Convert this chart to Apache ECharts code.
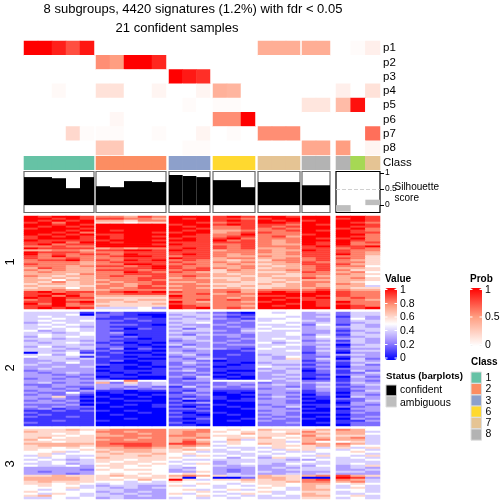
<!DOCTYPE html>
<html><head><meta charset="utf-8">
<style>html,body{margin:0;padding:0;background:#fff}#c{width:504px;height:504px}</style>
<script src="https://cdn.jsdelivr.net/npm/echarts@6/dist/echarts.min.js"></script>
</head><body><div id="c"></div>
<script>
var titleLine1 = '8 subgroups, 4420 signatures (1.2%) with fdr < 0.05';
var titleLine2 = '21 confident samples';
var groupSizes = [5,5,3,3,3,2,3];
var pLabels = ['p1','p2','p3','p4','p5','p6','p7','p8'];
var p1 = [1,1,.9,.75,.93, 0,0,0,0,0, 0,0,0, 0,0,0, .42,.42,.42, .42,.42, 0,.02,.08];
var p2 = [0,0,0,0,0, .55,.5,1,1,.88, 0,0,0, 0,0,0, 0,0,0, 0,0, 0,0,0];
var p3 = [0,0,0,0,0, 0,0,0,0,0, 1,.92,.85, 0,0,0, 0,0,0, 0,0, 0,0,0];
var p4 = [0,0,.03,0,0, .15,.15,0,0,.05, 0,0,.05, .4,.38,0, 0,0,0, 0,0, .08,0,.15];
var p5 = [0,0,0,0,0, 0,0,0,0,0, 0,.02,0, .02,.02,0, 0,0,0, .13,.13, .35,.95,0];
var p6 = [0,0,0,0,0, 0,.04,0,0,0, 0,0,0, .55,.55,1, 0,0,0, 0,0, 0,0,0];
var p7 = [0,0,0,.2,.02, .02,.02,0,0,.02, 0,0,.05, 0,.02,0, .55,.55,.55, 0,0, 0,0,.65];
var p8 = [0,0,0,0,0, .28,.28,0,0,0, 0,.02,.02, 0,0,0, 0,0,0, .45,.45, .5,0,.05];
var classIds = [1,1,1,1,1, 2,2,2,2,2, 3,3,3, 6,6,6, 7,7,7, 8,8, 8,4,7];
var silhouette = [.875,.875,.84,.53,.875, .59,.56,.75,.75,.72, .94,.91,.875, .78,.78,.56, .72,.72,.72, .62,.62, -.2,0,.17];
var confident = [1,1,1,1,1, 1,1,1,1,1, 1,1,1, 1,1,1, 1,1,1, 1,1, 0,0,0];
var classLegend = ['1','2','3','6','7','8'];
var valueTicks = ['1','0.8','0.6','0.4','0.2','0'];
var probTicks = ['1','0.5','0'];
var statusLabels = ['confident','ambiguous'];
var sliceNames = ['1','2','3'];
// digits: 0..9,a => value/10
var slice1 = [
'a9aa9 88798 aaa 9a9 aa9 aa aa9',
'aa9a9 99887 a9a 998 9aa aa 9a9',
'a9a9a 77688 aaa 9a9 a9a 9a aa9',
'9a8aa 66566 aa9 899 aa9 aa a98',
'aa9a9 aaaaa 9aa 9a9 998 a9 aa9',
'a9a9a aaaaa a9a 889 989 aa a99',
'9aaa9 aaaaa aa9 889 898 aa 9a8',
'aaa9a a9aaa a9a 778 889 a9 a98',
'aa9a8 aaaa9 9aa 789 988 aa a99',
'a9a9a 99aaa aa9 88a 888 9a aa8',
'9a9a9 a9aa9 a99 899 897 aa a98',
'9aaa9 a9aaa 9a9 9a8 888 a9 9a8',
'a9999 9aaa9 aa9 a89 878 aa a98',
'99a8a a9aaa 999 999 878 a9 a89',
'9a899 aaaa9 a99 889 877 a9 a88',
'88988 aaaaa 999 989 888 9a 99a',
'a9999 78788 9a9 989 778 99 898',
'77887 99aa9 a99 788 877 a9 988',
'a9998 88999 999 888 878 99 987',
'a8989 98a99 9a9 878 778 99 a87',
'98a88 89aa9 899 877 877 99 886',
'98898 88999 a99 788 778 89 986',
'899a8 98a9a 898 767 688 89 876',
'88887 89999 988 878 778 98 886',
'98887 88aa9 898 787 677 99 976',
'88878 9989a 988 778 767 89 885',
'79877 8899a 989 878 677 89 776',
'87877 99989 899 687 778 89 866',
'78777 88a98 987 677 667 98 785',
'77768 88999 888 767 776 88 876',
'87677 89889 898 776 766 87 775',
'76767 88899 787 667 677 98 786',
'77577 78898 888 767 667 77 776',
'76867 87889 778 776 676 88 765',
'67767 78789 887 666 767 87 875',
'76666 88798 788 767 667 87 774',
'67757 87899 887 676 677 78 766',
'77877 78888 788 887 888 89 877',
'9a899 89a9a 988 897 9a9 9a 988',
'99a98 88999 889 788 aaa aa 988',
'9a8a8 77777 a88 887 99a a9 988',
'a9a99 66666 988 878 aa9 9a 898',
'89a88 77677 889 898 a9a 99 887',
'99a9a 76766 a87 887 9aa a9 a88',
'a8a89 66667 988 888 aa9 a9 988',
'99a88 76666 a98 887 a9a a9 a98',
'9a9a9 44453 a9a 898 aaa aa a9a'
];
var slice2 = [
'44441 12111 443 210 545 34 244',
'44450 22100 344 321 555 33 244',
'45444 21110 434 212 554 34 143',
'44544 11211 343 321 445 33 253',
'45445 22121 444 223 455 43 244',
'34544 21111 345 232 554 34 234',
'45454 22210 433 322 445 25 143',
'44543 21111 343 232 544 34 343',
'45454 22021 424 223 455 34 244',
'53454 21111 344 324 544 33 134',
'44345 23111 433 223 445 33 243',
'45445 22011 324 332 445 24 144',
'35454 21211 443 232 444 35 234',
'44344 22101 343 223 454 34 343',
'34443 21111 234 232 445 23 143',
'43454 12010 333 322 534 34 243',
'44443 21101 423 233 445 33 034',
'35344 22110 243 222 454 24 144',
'44434 13021 334 321 544 23 233',
'44342 21110 323 112 445 24 144',
'04451 12001 433 111 444 13 033',
'45354 11110 342 121 344 23 343',
'54441 21011 233 111 435 22 133',
'34434 11100 324 211 436 24 042',
'33443 12011 332 011 444 13 243',
'34353 10001 243 110 344 22 134',
'43333 21101 232 101 433 13 142',
'33434 01010 323 011 544 22 033',
'34333 11001 232 111 343 13 233',
'23333 01111 342 100 434 02 142',
'32343 10101 223 011 334 12 124',
'33232 11011 232 101 343 11 233',
'33323 01100 324 010 334 12 042',
'23232 10000 213 100 343 01 133',
'33333 45855 233 555 534 22 132',
'34232 72634 222 233 233 34 243',
'22333 33434 323 232 343 23 134',
'32322 33232 142 323 332 24 223',
'33231 32323 223 222 234 23 133',
'23323 11011 213 111 333 13 124',
'32252 01000 132 010 332 12 033',
'23231 00101 223 001 233 02 132',
'33620 10010 212 100 342 11 043',
'32321 01000 132 101 233 01 223',
'23230 00110 201 011 332 10 124',
'33321 10000 123 000 332 00 033',
'22230 00101 211 100 233 11 132',
'32322 01001 102 010 324 01 223',
'23121 00000 221 001 332 10 033',
'11212 10100 112 000 233 00 123',
'21111 00010 201 100 332 11 132',
'12111 01000 110 010 232 00 022',
'21121 00000 211 000 323 01 123',
'11111 00100 102 001 232 10 032',
'11211 10000 111 010 322 00 113',
'21111 00000 201 000 223 01 122',
'11111 00000 110 000 222 00 022'
];
var slice3 = [
'66676 78888 778 565 766 67 875',
'76665 88788 788 656 656 86 774',
'66565 78878 787 557 667 77 775',
'66656 77888 887 665 665 86 664',
'67566 88878 778 566 756 77 784',
'75666 78788 786 574 665 78 774',
'66566 88888 797 465 664 75 564',
'77777 89998 998 565 765 87 874',
'67776 88998 787 455 566 67 755',
'66565 77887 765 544 465 64 646',
'65556 67776 676 454 546 65 454',
'55645 76776 654 445 454 45 565',
'56455 67667 565 544 545 54 554',
'46544 66676 546 454 455 46 546',
'54545 76666 655 535 364 54 454',
'45434 66566 544 444 443 35 445',
'54544 65665 455 344 444 54 444',
'44534 56656 546 345 435 44 454',
'54453 66565 455 434 334 35 346',
'33333 56555 435 333 343 44 343',
'33332 65665 345 323 334 44 334',
'32333 55555 336 323 433 33 443',
'33323 56565 565 343 334 34 333',
'66766 67656 787 644 766 78 976',
'77776 65666 605 002 776 00 a93',
'77776 66575 a64 667 676 89 874',
'67666 55454 655 556 667 88 784',
'66565 45444 556 545 665 77 565',
'56554 34433 645 454 565 76 454',
'55564 43434 555 455 654 76 464',
'54545 44333 564 564 554 77 554',
'65555 34343 556 455 645 66 454',
'54654 43433 645 546 545 76 445',
'67554 44343 556 454 454 77 564',
'44545 34333 454 545 444 66 454'
];

var PAL = ['#0000ff','#9c88ff','#ffffff','#ff9e81','#ff0000'];
var PROB = ['#ffffff','#ff9e81','#ff0000'];
var CLASSCOL = {1:'#66c2a5',2:'#fc8d62',3:'#8da0cb',4:'#a6d854',6:'#ffd92f',7:'#e5c494',8:'#b3b3b3'};
var panels = [[24,94],[96,166],[169,210],[213,255],[258,300],[302,330],[336,380]];
var sliceY = [[216,309],[312,426],[429,499]];
var sliceRows = [slice1,slice2,slice3].map(function(s){return s.map(function(r){return r.replace(/ /g,'');});});
var pAll = [p1,p2,p3,p4,p5,p6,p7,p8];

var grid=[],xAxis=[],yAxis=[],series=[],gi=0, heatSeries=[], probSeries=[];
function addGrid(x0,x1,y0,y1,extra){
  var g={left:x0,width:x1-x0,top:y0,height:y1-y0,containLabel:false};
  for(var k in (extra||{})) g[k]=extra[k];
  grid.push(g);return gi++;
}
function idx(n){var a=[];for(var i=0;i<n;i++)a.push(String(i));return a;}
function catX(g,n){xAxis.push({type:'category',gridIndex:g,data:idx(n),show:false,boundaryGap:true});}
function catY(g,data,lab){
  yAxis.push({type:'category',gridIndex:g,data:data,inverse:true,boundaryGap:true,
    axisLine:{show:false},axisTick:{show:false},splitLine:{show:false},
    position:'right',
    axisLabel:lab?{show:true,color:'#000',fontFamily:'Liberation Sans',fontSize:11.5,margin:3,interval:0,padding:[3,0,0,0]}:{show:false}});
}
var start=0;
groupSizes.forEach(function(n,g){
  var px=panels[g], last=g===groupSizes.length-1;
  var gid=addGrid(px[0],px[1],41,155);
  catX(gid,n);catY(gid,pLabels,last);
  var d=[];
  pAll.forEach(function(arr,r){for(var c=0;c<n;c++)d.push([c,r,arr[start+c]]);});
  series.push({type:'heatmap',xAxisIndex:gid,yAxisIndex:gid,data:d,progressive:0,animation:false,emphasis:{disabled:true}});
  probSeries.push(series.length-1);
  gid=addGrid(px[0],px[1],156,170);
  catX(gid,n);catY(gid,['Class'],last);
  var cd=[];
  for(var c=0;c<n;c++)cd.push({value:[c,0,1],itemStyle:{color:CLASSCOL[classIds[start+c]],opacity:1}});
  series.push({type:'scatter',symbol:'rect',symbolSize:[(px[1]-px[0])/n+0.6,14],xAxisIndex:gid,yAxisIndex:gid,data:cd,animation:false,silent:true,itemStyle:{opacity:1}});
  gid=addGrid(px[0],px[1],171.5,212.5,{show:true,backgroundColor:'#fff',borderColor:last?'#000':'#6a6a6a',borderWidth:1.2});
  catX(gid,n);
  yAxis.push({type:'value',gridIndex:gid,min:-0.23,max:1.05,position:'right',
    splitLine:{show:false},axisLine:{show:false},
    axisTick:{show:last,length:4,customValues:[0,0.5,1],lineStyle:{color:'#000'}},
    axisLabel:last?{show:true,customValues:[0,0.5,1],fontSize:8.5,fontFamily:'Liberation Sans',color:'#000',margin:5,
      formatter:function(v){return String(v);}}:{show:false}});
  var sd=[];
  for(c=0;c<n;c++)sd.push({value:silhouette[start+c],itemStyle:{color:confident[start+c]?'#000':'#bebebe'}});
  var s={type:'bar',xAxisIndex:gid,yAxisIndex:gid,data:sd,barWidth:'100%',animation:false,silent:true};
  if(last){s.markLine={silent:true,symbol:'none',label:{show:false},animation:false,
    lineStyle:{color:'#d0d0d0',type:'dashed',width:1},data:[{yAxis:0.5}]};}
  series.push(s);
  sliceRows.forEach(function(rows,si){
    var id=addGrid(px[0],px[1],sliceY[si][0],sliceY[si][1]);
    catX(id,n);catY(id,idx(rows.length),false);
    var hd=[];
    rows.forEach(function(rw,r){for(var c=0;c<n;c++)hd.push([c,r,parseInt(rw.charAt(start+c),11)/10]);});
    series.push({type:'heatmap',xAxisIndex:id,yAxisIndex:id,data:hd,progressive:0,animation:false,emphasis:{disabled:true}});
    heatSeries.push(series.length-1);
  });
  start+=n;
});

function txt(t,x,y,o){o=o||{};return {type:'text',x:x,y:y,rotation:o.rot||0,silent:true,z:50,style:{text:t,
  fill:'#000',font:(o.bold?'bold ':'')+(o.size||10)+'px "Liberation Sans"',textAlign:o.align||'left',textVerticalAlign:'middle'}};}
function rect(x,y,w,h,c,st){return {type:'rect',silent:true,z:49,shape:{x:x,y:y,width:w,height:h},style:{fill:c,stroke:st||null,lineWidth:st?1:0}};}
var gr=[];
gr.push(txt(titleLine1,193,9.5,{align:'center',size:13}));
gr.push(txt(titleLine2,177,28.5,{align:'center',size:13}));
var sideY=[262,368,464];
sliceNames.forEach(function(nm,i){gr.push(txt(nm,10.5,sideY[i],{rot:Math.PI/2,align:'center',size:13}));});
gr.push(txt('Silhouette',394.5,187,{size:10}));
gr.push(txt('score',394.5,198,{size:10}));
gr.push(txt('Value',385,279,{bold:true,size:10}));
gr.push(txt('Prob',470,279,{bold:true,size:10}));
var vY=[290,304,317.5,331,345,358.5];
valueTicks.forEach(function(t,i){gr.push(txt(t,400,vY[i],{size:10.5}));
  gr.push({type:'line',silent:true,z:49,shape:{x1:385,y1:vY[i]-0.5,x2:387.5,y2:vY[i]-0.5},style:{stroke:'#fff',lineWidth:1}});
  gr.push({type:'line',silent:true,z:49,shape:{x1:394.5,y1:vY[i]-0.5,x2:397,y2:vY[i]-0.5},style:{stroke:'#fff',lineWidth:1}});});
var pY=[290,317.5,345];
probTicks.forEach(function(t,i){gr.push(txt(t,485,pY[i],{size:10.5}));
  gr.push({type:'line',silent:true,z:49,shape:{x1:470,y1:pY[i]-0.5,x2:472.5,y2:pY[i]-0.5},style:{stroke:'#fff',lineWidth:1}});
  gr.push({type:'line',silent:true,z:49,shape:{x1:479.5,y1:pY[i]-0.5,x2:482,y2:pY[i]-0.5},style:{stroke:'#fff',lineWidth:1}});});
gr.push(txt('Status (barplots)',386,376,{bold:true,size:9.7}));
gr.push(rect(386,385,10.5,11,'#000','#ccc'));
gr.push(rect(386,396,10.5,11,'#bebebe','#ddd'));
gr.push(txt(statusLabels[0],400,390.5,{size:10.4}));
gr.push(txt(statusLabels[1],400,403,{size:10.4}));
gr.push(txt('Class',471,362.5,{bold:true,size:10}));
var cY=[372,383.5,395,406,417.5,429], cL=[377.7,388.7,400.7,412,423,434.5];
classLegend.forEach(function(l,i){gr.push(rect(471,cY[i],10.5,11.2,CLASSCOL[+l],'#ddd'));gr.push(txt(l,485.5,cL[i],{size:10.5}));});

var chart=echarts.init(document.getElementById('c'),null,{renderer:'canvas'});
chart.setOption({animation:false,backgroundColor:'#fff',grid:grid,xAxis:xAxis,yAxis:yAxis,series:series,graphic:{elements:gr},
  visualMap:[
    {type:'continuous',min:0,max:1,seriesIndex:heatSeries,inRange:{color:PAL},left:385,top:288,itemWidth:12,itemHeight:72,text:['',''],calculable:false,realtime:false,hoverLink:false,padding:0,textStyle:{fontSize:0,color:'rgba(0,0,0,0)'},formatter:function(){return '';}},
    {type:'continuous',min:0,max:1,seriesIndex:probSeries,inRange:{color:PROB},left:470,top:288,itemWidth:12,itemHeight:58,text:['',''],calculable:false,realtime:false,hoverLink:false,padding:0,textStyle:{fontSize:0,color:'rgba(0,0,0,0)'},formatter:function(){return '';}}
  ]});
</script></body></html>
